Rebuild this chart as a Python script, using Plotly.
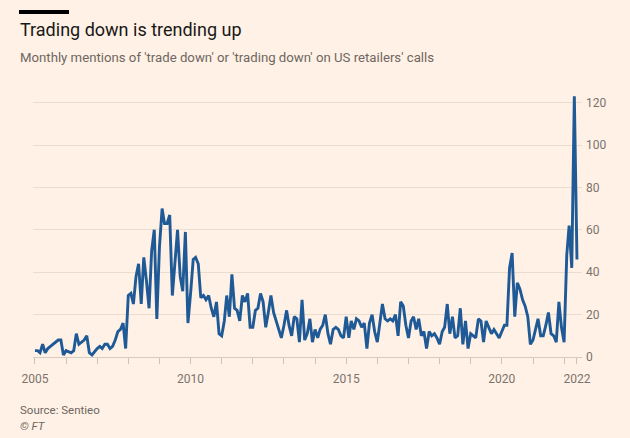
import plotly.graph_objects as go
import pandas as pd

# Monthly mentions, Jan 2005 .. Jun 2022
mentions_2005_2007 = [3, 3, 2, 6, 2, 4, 5, 6, 7, 8, 8, 1,
                      3, 2.5, 2, 3, 11, 6, 7, 8, 10, 2, 1, 2.5,
                      4, 5, 4, 6, 6, 4, 5, 8, 12, 13, 16, 4]
mentions_2008_2010 = [29, 30, 25, 38, 44, 25, 47, 36, 23, 50, 60, 18,
                      52, 70, 63, 63, 67, 29, 45, 60, 38, 31, 59, 16,
                      30, 46, 47, 44, 28, 29, 27, 29, 23, 19, 26, 11]
mentions_2011_2013 = [10, 17, 29, 19, 39, 23, 22, 17, 29, 26, 30, 14,
                      14, 22, 23, 30, 26, 14, 21, 29, 21, 17, 12, 9,
                      15, 22, 15, 10, 19, 18, 7, 27, 8, 11, 18, 7]
mentions_2014_2016 = [13, 9, 13, 15, 20, 11, 6, 13, 14, 13, 10, 9,
                      19, 9, 17, 13, 18, 17, 14, 16, 4, 16, 20, 12,
                      7, 16, 25, 18, 17, 18, 17, 20, 10, 26, 24, 15]
mentions_2017_2019 = [9, 17, 19, 13, 18, 10, 12, 4, 12, 10, 11, 9,
                      6, 12, 14, 25, 11, 19, 9, 10, 23, 6, 17, 4,
                      11, 10, 9, 18, 17, 7, 17, 14, 11, 13, 11, 9]
mentions_2020_2022 = [12, 15, 15, 42, 49, 19, 35, 32, 27, 24, 19, 6,
                      8, 13, 18, 10, 10, 15, 21, 11, 10, 7, 26, 14,
                      7, 48, 62, 42, 123, 46]

values = (mentions_2005_2007 + mentions_2008_2010 + mentions_2011_2013 +
          mentions_2014_2016 + mentions_2017_2019 + mentions_2020_2022)
dates = pd.date_range("2005-01-01", periods=len(values), freq="MS")

year_ticks = [f"{y}-01-01" for y in range(2005, 2023)]
labelled = {"2005": "2005", "2010": "2010", "2015": "2015", "2020": "2020"}
tick_vals = year_ticks + [dates[-1].strftime("%Y-%m-%d")]
tick_text = [labelled.get(t[:4], "") for t in year_ticks] + ["2022"]
y_ticks = [0, 20, 40, 60, 80, 100, 120]

title = "Trading down is trending up"
subtitle = "Monthly mentions of 'trade down' or 'trading down' on US retailers' calls"
source = "Source: Sentieo"
credit = "© FT"

BG = "#FFF1E5"
GRID = "#EADDD0"
TEXT_GREY = "#6E6762"
TICK_GREY = "#7A736D"

W, H = 630, 438
L, R, T, B = 33, 48, 92, 81
PW, PH = W - L - R, H - T - B


def px(x):
    return (x - L) / PW


def py(y):
    return (H - B - y) / PH


fig = go.Figure()
fig.add_trace(go.Scatter(
    x=dates, y=values, mode="lines",
    line=dict(color="#1F5A96", width=2.9),
    hoverinfo="skip", showlegend=False,
))

fig.update_layout(
    width=W, height=H,
    margin=dict(l=L, r=R, t=T, b=B, pad=0),
    paper_bgcolor=BG, plot_bgcolor=BG,
    font=dict(family="Roboto", color=TEXT_GREY, size=12),
    xaxis=dict(
        type="date",
        range=["2004-12-09", "2022-07-30"],
        tickvals=tick_vals, ticktext=tick_text,
        ticks="outside", ticklen=6, tickcolor="#CFC3B8", tickwidth=1,
        showgrid=False, zeroline=False, showline=False,
        tickfont=dict(size=12, color=TICK_GREY),
        ticklabelstandoff=5,
    ),
    yaxis=dict(
        range=[0, 125], side="right",
        tickvals=y_ticks, ticktext=[str(v) for v in y_ticks],
        showgrid=True, gridcolor=GRID, gridwidth=1,
        zeroline=True, zerolinecolor="#D8CCC1", zerolinewidth=1,
        showline=False, ticks="",
        tickfont=dict(size=12, color=TICK_GREY),
        ticklabelstandoff=3,
    ),
)

fig.add_shape(type="rect", xref="paper", yref="paper",
              x0=px(19), x1=px(69), y0=py(14), y1=py(10),
              fillcolor="#000000", line=dict(width=0))

fig.add_annotation(text=title, xref="paper", yref="paper",
                   x=px(18), y=py(29), xanchor="left", yanchor="middle",
                   showarrow=False, font=dict(size=18, color="#1A1817", family="Roboto"))
fig.add_annotation(text=subtitle, xref="paper", yref="paper",
                   x=px(18), y=py(57), xanchor="left", yanchor="middle",
                   showarrow=False, font=dict(size=13.2, color=TEXT_GREY, family="Roboto"))
fig.add_annotation(text=source, xref="paper", yref="paper",
                   x=px(18), y=py(410), xanchor="left", yanchor="middle",
                   showarrow=False, font=dict(size=11.5, color=TEXT_GREY, family="Roboto"))
fig.add_annotation(text="<i>" + credit + "</i>", xref="paper", yref="paper",
                   x=px(18), y=py(426), xanchor="left", yanchor="middle",
                   showarrow=False, font=dict(size=11.5, color=TEXT_GREY, family="Roboto"))

fig.write_html("out.html")
